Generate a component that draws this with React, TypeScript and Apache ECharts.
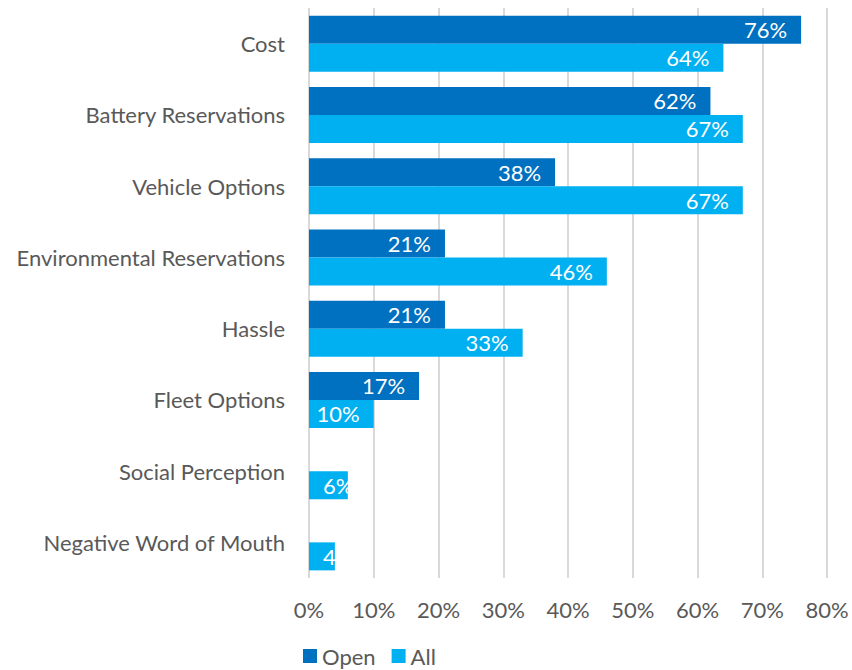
import React, { useEffect, useRef } from "react";
import * as echarts from "echarts";

const categories = [
  "Cost",
  "Battery Reservations",
  "Vehicle Options",
  "Environmental Reservations",
  "Hassle",
  "Fleet Options",
  "Social Perception",
  "Negative Word of Mouth",
];
const openValues = [76, 62, 38, 21, 21, 17, 0, 0];
const allValues = [64, 67, 67, 46, 33, 10, 6, 4];
const seriesNames = ["Open", "All"];
const colors = ["#0070C0", "#00B0F0"];

const FONT = "Lato, 'Noto Sans', sans-serif";
const FS = 22;

function buildData(values: number[]) {
  return values.map((v) =>
    v > 0 && v < 8
      ? { value: v, label: { position: "insideLeft", distance: 14 } }
      : v
  );
}

export default function App() {
  const ref = useRef<HTMLDivElement>(null);
  useEffect(() => {
    if (!ref.current) return;
    const chart = echarts.init(ref.current, undefined, { renderer: "svg" });
    const label = {
      show: true,
      position: "insideRight",
      distance: 14,
      color: "#ffffff",
      fontSize: FS,
      fontFamily: FONT,
      formatter: (p: any) => (p.value ? p.value + "%" : ""),
    };
    chart.setOption({
      animation: false,
      textStyle: { fontFamily: FONT },
      grid: { left: 309, right: 25, top: 8, bottom: 92 },
      legend: {
        left: 298,
        top: 640,
        itemWidth: 14,
        itemHeight: 14,
        itemGap: 16,
        icon: "rect",
        textStyle: { color: "#595959", fontSize: FS, fontFamily: FONT },
        data: seriesNames,
      },
      xAxis: {
        type: "value",
        min: 0,
        max: 80,
        interval: 10,
        axisLine: { show: false },
        axisTick: { show: false },
        splitLine: { show: true, lineStyle: { color: "#D9D9D9", width: 2 } },
        axisLabel: {
          formatter: "{value}%",
          color: "#595959",
          fontSize: FS,
          fontFamily: FONT,
          margin: 20,
        },
      },
      yAxis: {
        type: "category",
        data: categories,
        inverse: true,
        axisLine: { show: false },
        axisTick: { show: false },
        axisLabel: {
          color: "#595959",
          fontSize: FS,
          fontFamily: FONT,
          margin: 24,
        },
      },
      series: [
        {
          name: seriesNames[0],
          type: "bar",
          data: buildData(openValues),
          barWidth: 28,
          barGap: "0%",
          itemStyle: { color: colors[0] },
          label,
        },
        {
          name: seriesNames[1],
          type: "bar",
          data: buildData(allValues),
          barWidth: 28,
          barGap: "0%",
          itemStyle: { color: colors[1] },
          label,
        },
      ],
    });
    return () => chart.dispose();
  }, []);
  return (
    <div
      ref={ref}
      style={{ position: "fixed", left: 0, top: 0, width: 852, height: 670, background: "#fff" }}
    />
  );
}
